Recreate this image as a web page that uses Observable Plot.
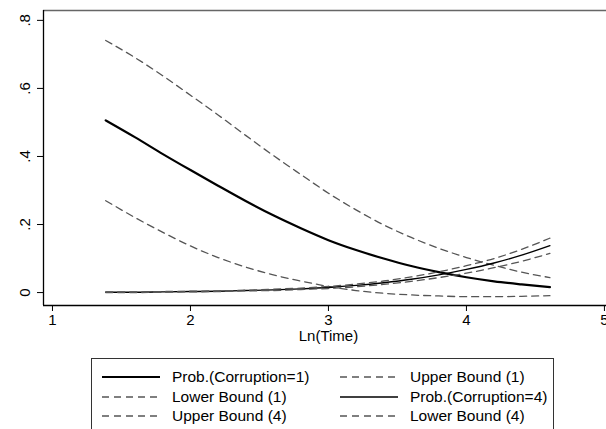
<!DOCTYPE html>
<html>
<head>
<meta charset="utf-8">
<script src="https://cdn.jsdelivr.net/npm/d3@7"></script>
<script src="https://cdn.jsdelivr.net/npm/@observablehq/plot@0.6"></script>
<style>
  html, body { margin: 0; padding: 0; background: #fff; }
  body { width: 606px; height: 429px; overflow: hidden; position: relative;
         font-family: "Liberation Sans", Arial, Helvetica, sans-serif; }
  #legend { position: absolute; left: 91px; top: 358px; width: 463px; height: 80px;
            border: 1px solid #333; box-sizing: border-box; }
  .item { position: absolute; height: 20px; display: flex; align-items: center; }
  .item svg { width: 58px; height: 6px; margin-right: 12px; }
  .item span { font-size: 15.5px; color: #000; white-space: nowrap; }
</style>
</head>
<body>
<div id="chart"></div>
<div id="legend"></div>
<script>
// ---- data ----
const lnTime = [1.386, 1.6, 1.8, 2.0, 2.2, 2.4, 2.6, 2.8, 3.0, 3.2, 3.4, 3.6, 3.8, 4.0, 4.2, 4.4, 4.605];
const prob1  = [0.506, 0.456, 0.407, 0.360, 0.314, 0.269, 0.227, 0.189, 0.154, 0.125, 0.100, 0.078, 0.060, 0.045, 0.033, 0.024, 0.016];
const upper1 = [0.741, 0.690, 0.637, 0.580, 0.522, 0.462, 0.403, 0.347, 0.292, 0.243, 0.199, 0.162, 0.130, 0.103, 0.080, 0.060, 0.044];
const lower1 = [0.270, 0.220, 0.177, 0.137, 0.103, 0.075, 0.052, 0.034, 0.018, 0.006, -0.002, -0.007, -0.010, -0.012, -0.012, -0.011, -0.009];
const prob4  = [0.001, 0.001, 0.002, 0.003, 0.004, 0.006, 0.008, 0.011, 0.015, 0.021, 0.029, 0.039, 0.052, 0.068, 0.087, 0.110, 0.138];
const upper4 = [0.002, 0.002, 0.003, 0.004, 0.005, 0.007, 0.010, 0.013, 0.018, 0.025, 0.034, 0.046, 0.061, 0.079, 0.100, 0.127, 0.160];
const lower4 = [0.000, 0.000, 0.001, 0.002, 0.003, 0.005, 0.006, 0.009, 0.012, 0.017, 0.024, 0.033, 0.044, 0.057, 0.073, 0.092, 0.115];

const xTicks = [1, 2, 3, 4, 5];
const yTicks = [0, 0.2, 0.4, 0.6, 0.8];
const yTickLabels = ["0", ".2", ".4", ".6", ".8"];
const xLabel = "Ln(Time)";

const seriesNames = ["Prob.(Corruption=1)", "Upper Bound (1)", "Lower Bound (1)", "Prob.(Corruption=4)", "Upper Bound (4)", "Lower Bound (4)"];
const seriesValues = [prob1, upper1, lower1, prob4, upper4, lower4];

// ---- styles ----
const styles = [
  {stroke: "#000", strokeWidth: 2.2, dash: null},
  {stroke: "#555", strokeWidth: 1.3, dash: "7,5"},
  {stroke: "#555", strokeWidth: 1.3, dash: "7,5"},
  {stroke: "#000", strokeWidth: 1.4, dash: null},
  {stroke: "#555", strokeWidth: 1.3, dash: "7,5"},
  {stroke: "#555", strokeWidth: 1.3, dash: "7,5"}
];

const xDomain = [0.935, 5.015];
const yDomain = [-0.038, 0.829];

const lineMarks = seriesValues.map((vals, s) => {
  const data = lnTime.map((t, i) => ({t, v: vals[i]}));
  const st = styles[s];
  return Plot.line(data, {
    x: "t", y: "v", curve: "monotone-x",
    stroke: st.stroke, strokeWidth: st.strokeWidth,
    strokeDasharray: st.dash || undefined
  });
});

const chart = Plot.plot({
  width: 606, height: 350,
  marginLeft: 43, marginRight: 0, marginTop: 10, marginBottom: 45,
  style: {fontFamily: "'Liberation Sans', Arial, Helvetica, sans-serif", fontSize: "15px", background: "#fff", color: "#000", overflow: "visible"},
  x: {domain: xDomain},
  y: {domain: yDomain},
  marks: [
    Plot.ruleY([yDomain[1]], {stroke: "#666", strokeWidth: 1.3}),
    Plot.ruleY([yDomain[0]], {stroke: "#000", strokeWidth: 1.3}),
    Plot.ruleX([xDomain[0]], {stroke: "#000", strokeWidth: 1.3}),
    Plot.axisX(xTicks, {tickSize: 6, tickPadding: 3, fontSize: 15, label: null, tickFormat: d => String(d)}),
    Plot.axisY(yTicks, {tickSize: 6, tickPadding: 8, tickRotate: -90, fontSize: 15, label: null,
                        tickFormat: d => yTickLabels[yTicks.indexOf(d)]}),
    Plot.text([xLabel], {x: () => 3, frameAnchor: "bottom", dy: 35, fontSize: 15, text: d => d}),
    ...lineMarks
  ]
});
document.getElementById("chart").appendChild(chart);

// ---- legend ----
const legend = document.getElementById("legend");
const cols = [{left: 10}, {left: 248}];
seriesNames.forEach((name, i) => {
  const col = i % 2, row = Math.floor(i / 2);
  const st = styles[i];
  const div = document.createElement("div");
  div.className = "item";
  div.style.left = cols[col].left + "px";
  div.style.top = (8 + row * 19.5) + "px";
  const ns = "http://www.w3.org/2000/svg";
  const svg = document.createElementNS(ns, "svg");
  const ln = document.createElementNS(ns, "line");
  ln.setAttribute("x1", 0); ln.setAttribute("x2", 58);
  ln.setAttribute("y1", 3); ln.setAttribute("y2", 3);
  ln.setAttribute("stroke", st.stroke);
  ln.setAttribute("stroke-width", st.strokeWidth);
  if (st.dash) ln.setAttribute("stroke-dasharray", "7,5");
  svg.appendChild(ln);
  const span = document.createElement("span");
  span.textContent = name;
  div.appendChild(svg); div.appendChild(span);
  legend.appendChild(div);
});
</script>
</body>
</html>
